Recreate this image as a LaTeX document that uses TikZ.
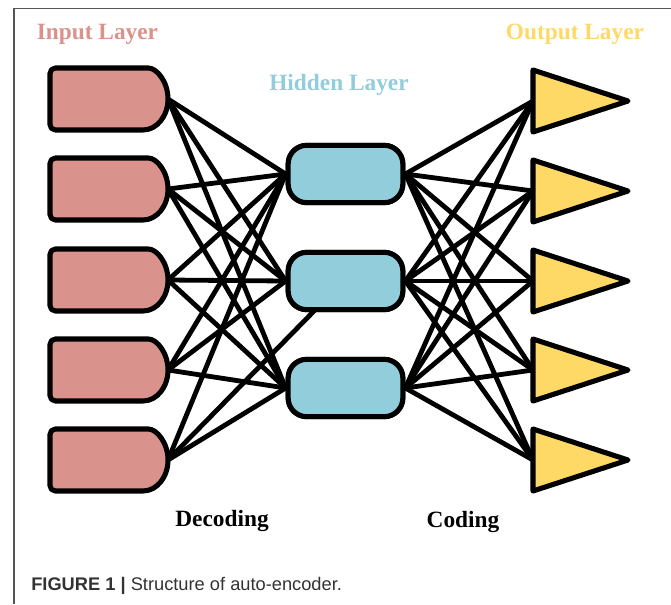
\documentclass[tikz,border=0pt]{standalone}
\usepackage{fontspec}
\setmainfont{Liberation Serif}
\newfontfamily\capfont{Liberation Sans}
\definecolor{inred}{HTML}{D9938C}
\definecolor{hidblue}{HTML}{92CDDC}
\definecolor{outyel}{HTML}{FFD966}
\definecolor{framegray}{HTML}{555555}
\definecolor{captxt}{HTML}{333333}
\begin{document}
\begin{tikzpicture}[x=0.75pt,y=-0.75pt,
  conn/.style={line width=3.6pt,black},
  shapeline/.style={line width=3.8pt,black,line join=round},
  hidbox/.style={draw=black,line width=3.8pt,fill=hidblue,rounded corners=14pt,minimum width=86pt,minimum height=43pt,inner sep=0pt},
  lbl/.style={font=\fontsize{17.5}{20}\selectfont\bfseries,inner sep=0pt},
  capt/.style={font=\capfont\fontsize{13.7}{16}\selectfont,text=captxt,inner sep=0pt,anchor=base west}]
\useasboundingbox (0,0) rectangle (671,604);
% frame
\draw[framegray,line width=1.1pt] (14,604) -- (14,8.5) -- (671,8.5);
% coordinates
\foreach \n/\y in {1/99,2/189,3/280,4/370,5/460}{
  \coordinate (i\n) at (168,\y);
}
\foreach \n/\y in {1/101,2/191,3/281,4/370,5/460}{
  \coordinate (o\n) at (533,\y);
}
\node[hidbox] (h1) at (345.5,174) {};
\node[hidbox] (h2) at (345.5,281) {};
\node[hidbox] (h3) at (345.5,388) {};
\coordinate (h2b) at (315,310);
% connectors
\foreach \i in {1,2,3,4}{
  \foreach \h in {1,2,3}{
    \draw[conn] (i\i) -- (h\h.west);
  }
}
\draw[conn] (i5) -- (h1.west);
\draw[conn] (i5) -- (h2b);
\draw[conn] (i5) -- (h3.west);
\foreach \o in {1,2,3,4,5}{
  \foreach \h in {1,2,3}{
    \draw[conn] (h\h.east) -- (o\o);
  }
}
% redraw hidden nodes on top
\node[hidbox] at (345.5,174) {};
\node[hidbox] at (345.5,281) {};
\node[hidbox] at (345.5,388) {};
% input shapes
\foreach \y in {99,189,280,370,460}{
  \draw[shapeline,fill=inred] (143,\y-31) arc[start angle=-90,end angle=90,x radius=25,y radius=31]
    [rounded corners=4pt] -- (50,\y+31) -- (50,\y-31) -- cycle;
}
% output shapes
\foreach \y in {101,191,281,370,460}{
  \draw[shapeline,fill=outyel] (533,\y-31) -- (628,\y) -- (533,\y+31) -- cycle;
}
% labels
\node[lbl,text=inred] (lin) at (97.5,34) {Input Layer};
\node[lbl,text=hidblue] (lhid) at (339,85) {Hidden Layer};
\node[lbl,text=outyel] (lout) at (575,34) {Output Layer};
\node[lbl] (ldec) at (222,521) {Decoding};
\node[lbl] (lcod) at (463,522) {Coding};
\node[capt] (cap) at (31,590) {\textbf{FIGURE 1 |} Structure of auto-encoder.};
\end{tikzpicture}
\end{document}
